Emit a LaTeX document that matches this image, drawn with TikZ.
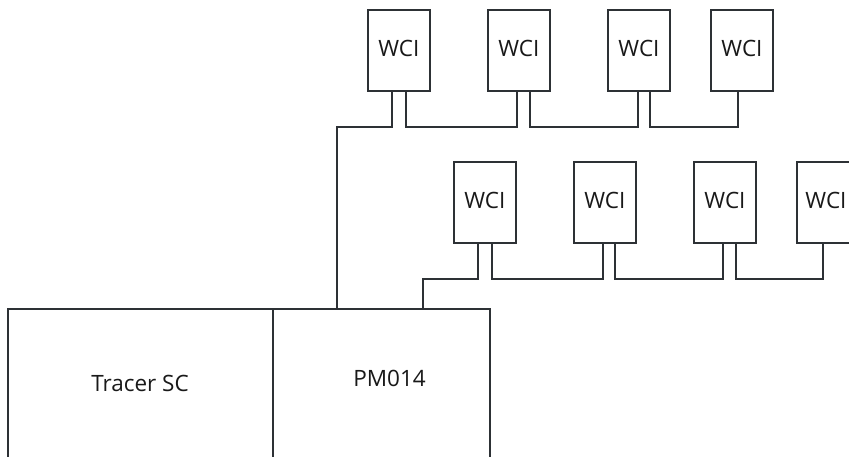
\documentclass[tikz,border=0pt]{standalone}
\usepackage{fontspec}
\setmainfont{Open Sans}
\definecolor{ln}{HTML}{2D3135}
\begin{document}
\begin{tikzpicture}[x=1pt,y=-1pt,
  wci/.style={draw=ln,line width=1.8pt,minimum width=62pt,minimum height=81pt,inner sep=0pt,anchor=north west},
  unit/.style={draw=ln,line width=1.8pt,inner sep=0pt,anchor=north west,minimum height=220pt},
  lbl/.style={font=\fontsize{22.5}{26}\selectfont,inner sep=0pt,text=black!90},
  wire/.style={draw=ln,line width=1.8pt}]
\clip (0,0) rectangle (849,456);
\fill[white] (0,0) rectangle (849,456);
% top row
\node[wci] (t1) at (367,9) {};
\node[wci] (t2) at (487,9) {};
\node[wci] (t3) at (607,9) {};
\node[wci] (t4) at (710,9) {};
% second row
\node[wci] (b1) at (453,161) {};
\node[wci] (b2) at (573,161) {};
\node[wci] (b3) at (693,161) {};
\node[wci] (b4) at (796,161) {};
\foreach \n in {t1,t2,t3,t4,b1,b2,b3}
  \node[lbl] (\n l) at ([yshift=1.5pt]\n.center) {WCI};
\node[lbl] (b4l) at ([xshift=-2pt,yshift=1.5pt]b4.center) {WCI};
% bottom units
\node[unit,minimum width=265pt] (tr) at (7,308) {};
\node[unit,minimum width=217pt] (pm) at (272,308) {};
\node[lbl] (trl) at (140,383) {Tracer SC};
\node[lbl] (pml) at (389.5,378) {PM014};
% top row wiring
\draw[wire] ([xshift=-7pt]t1.south) -- ++(0,35) -| ([xshift=-44.5pt]pm.north);
\draw[wire] ([xshift=7pt]t1.south) -- ++(0,35) -| ([xshift=-2pt]t2.south);
\draw[wire] ([xshift=11pt]t2.south) -- ++(0,35) -| ([xshift=-1pt]t3.south);
\draw[wire] ([xshift=11pt]t3.south) -- ++(0,35) -| ([xshift=-4pt]t4.south);
% second row wiring
\draw[wire] ([xshift=-7pt]b1.south) -- ++(0,35) -| ([xshift=41.5pt]pm.north);
\draw[wire] ([xshift=7pt]b1.south) -- ++(0,35) -| ([xshift=-2pt]b2.south);
\draw[wire] ([xshift=10pt]b2.south) -- ++(0,35) -| ([xshift=-2pt]b3.south);
\draw[wire] ([xshift=11pt]b3.south) -- ++(0,35) -| ([xshift=-5pt]b4.south);
\end{tikzpicture}
\end{document}
